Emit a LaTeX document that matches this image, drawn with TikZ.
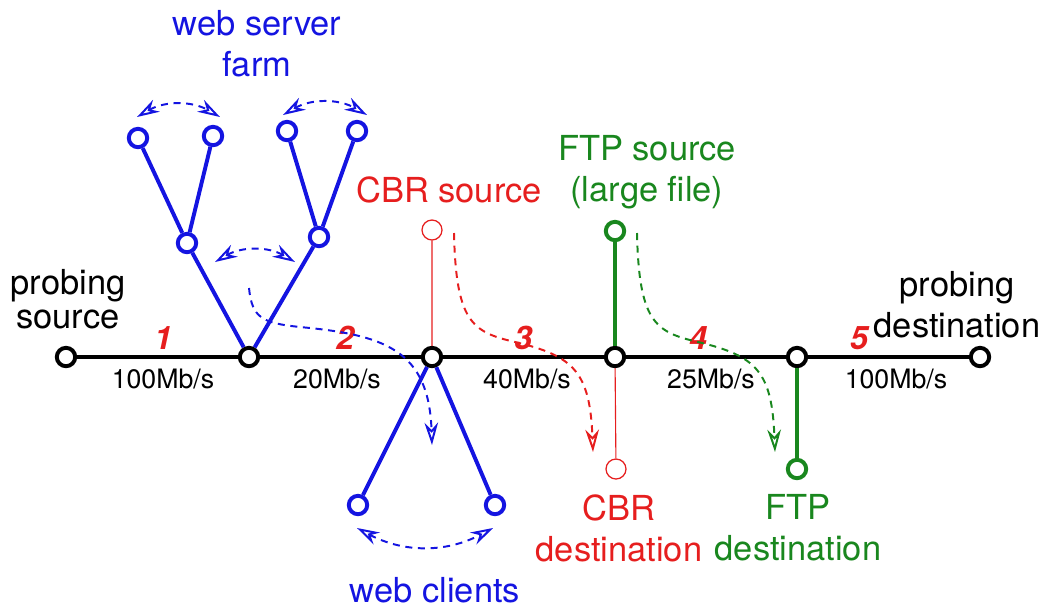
\documentclass[tikz,border=0pt]{standalone}
\usepackage{fontspec}
\setmainfont{TeX Gyre Heros}
\usepackage{xcolor}
\usetikzlibrary{arrows.meta}
\definecolor{webblue}{RGB}{20,20,225}
\definecolor{cbrred}{RGB}{230,30,30}
\definecolor{ftpgreen}{RGB}{25,135,30}
\tikzset{
  hub/.style={circle, draw=black, line width=2.8pt, fill=white, inner sep=0pt, minimum size=4.6mm},
  webhub/.style={hub, draw=webblue},
  cbrhub/.style={hub, draw=cbrred, line width=0.9pt, minimum size=5mm},
  ftphub/.style={hub, draw=ftpgreen},
  trunk/.style={line width=2.6pt, draw=black},
  weblink/.style={line width=2.8pt, draw=webblue},
  cbrlink/.style={line width=0.8pt, draw=cbrred},
  ftplink/.style={line width=2.5pt, draw=ftpgreen},
  flow/.style={-{Stealth[open,length=5.6mm,width=3.4mm]}, line width=1.4pt, dash pattern=on 5pt off 4pt},
  biflow/.style={flow, {Stealth[open,length=5.6mm,width=3.4mm]}-{Stealth[open,length=5.6mm,width=3.4mm]}, draw=webblue},
  txt/.style={font=\fontsize{24.5}{29}\selectfont, align=center, inner sep=0pt},
  rate/.style={font=\fontsize{19}{21}\selectfont, inner sep=0pt},
  seg/.style={font=\fontsize{23}{25}\selectfont\bfseries\itshape, text=cbrred, inner sep=0pt},
}

\begin{document}
\begin{tikzpicture}[x=0.025cm, y=-0.025cm]
  \useasboundingbox (0,0) rectangle (1048,608);
  \node[hub] (src) at (66,357) {};
  \node[hub] (r1) at (249,357) {};
  \node[hub] (r2) at (432,357) {};
  \node[hub] (r3) at (615,357) {};
  \node[hub] (r4) at (797,357) {};
  \node[hub] (dst) at (980,357) {};
  \node[webhub] (wsa) at (187,243) {};
  \node[webhub] (wsb) at (319,237) {};
  \node[webhub] (ws1) at (138,138) {};
  \node[webhub] (ws2) at (213,136) {};
  \node[webhub] (ws3) at (287,131) {};
  \node[webhub] (ws4) at (357,131) {};
  \node[webhub] (wc1) at (358,505) {};
  \node[webhub] (wc2) at (495,505) {};
  \node[cbrhub] (cbrs) at (432,230) {};
  \node[cbrhub] (cbrd) at (616,469) {};
  \node[ftphub] (ftps) at (615,231) {};
  \node[ftphub] (ftpd) at (797,469) {};

  \draw[trunk] (src) -- (r1) -- (r2) -- (r3) -- (r4) -- (dst);
  \draw[weblink] (ws1) -- (wsa) -- (ws2) (ws3) -- (wsb) -- (ws4) (wsa) -- (r1) -- (wsb);
  \draw[weblink] (wc1) -- (r2) -- (wc2);
  \draw[cbrlink] (cbrs) -- (r2) (r3) -- (cbrd);
  \draw[ftplink] (ftps) -- (r3) (r4) -- (ftpd);

  \node[txt, text=webblue] (farm) at (257,44) {web server\\farm};
  \node[txt, font=\fontsize{24.5}{24}\selectfont] (srclab) at (68,299) {probing\\source};
  \node[txt] (dstlab) at (957,305) {probing\\destination};
  \node[txt, text=cbrred] (cbrslab) at (449,190) {CBR source};
  \node[txt, text=ftpgreen] (ftpslab) at (647,172) {FTP source\\(large file)};
  \node[txt, text=cbrred] (cbrdlab) at (619,528) {CBR\\destination};
  \node[txt, text=ftpgreen] (ftpdlab) at (798,528) {FTP\\destination};
  \node[txt, text=webblue] (clients) at (435,590) {web clients};
  \foreach \x/\r [count=\i] in {163/100, 337/20, 527/40, 711/25, 896/100}
    \node[rate] (rate\i) at (\x,379) {\r Mb/s};
  \foreach \x/\n in {163/1, 345/2, 523/3, 698/4, 859/5}
    \node[seg] (seg\n) at (\x,338) {\n};

  \coordinate (wfrom) at (249,288);
  \coordinate (wto) at (432,445);
  \coordinate (cfrom) at (454,233);
  \coordinate (cto) at (593,452);
  \coordinate (ffrom) at (637,233);
  \coordinate (fto) at (775,452);
  \draw[flow, draw=webblue] (wfrom) .. controls (252,318) and (262,323) .. (300,327) .. controls (385,335) and (429,350) .. (wto);
  \draw[flow, draw=cbrred] (cfrom) .. controls (456,322) and (472,332) .. (515,342) .. controls (574,356) and (590,372) .. (cto);
  \draw[flow, draw=ftpgreen] (ffrom) .. controls (639,322) and (655,332) .. (698,342) .. controls (757,356) and (772,372) .. (fto);
  \draw[biflow] ([shift={(-1,-21)}]ws1.center) to[bend left=30] ([shift={(7,-19)}]ws2.center);
  \draw[biflow] ([shift={(-4,-16)}]ws3.center) to[bend left=30] ([shift={(10,-16)}]ws4.center);
  \draw[biflow] ([shift={(28,19)}]wsa.center) to[bend left=30] ([shift={(-24,25)}]wsb.center);
  \draw[biflow] ([shift={(-1,23)}]wc1.center) to[bend right=28] ([shift={(-2,23)}]wc2.center);
\end{tikzpicture}
\end{document}
